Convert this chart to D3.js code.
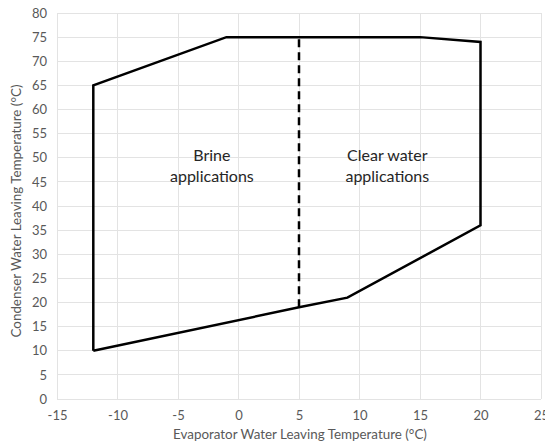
<!DOCTYPE html>
<html>
<head>
<meta charset="utf-8">
<script src="https://cdn.jsdelivr.net/npm/d3@7"></script>
<style>
  body { margin: 0; background: #fff; }
  svg { font-family: Lato, "Open Sans", sans-serif; }
</style>
</head>
<body>
<svg id="chart"></svg>
<script>
var width = 545, height = 443;
var margin = {top: 13, left: 57, right: 4, bottom: 44};

// envelope outline (evaporator temp, condenser temp)
var envX = [-12, -12, -1, 15, 20, 20, 9, 5, -12];
var envY = [10, 65, 75, 75, 74, 36, 21, 19, 10];
// divider between brine and clear water
var divX = [5, 5];
var divY = [19, 75];
var xTicks = [-15, -10, -5, 0, 5, 10, 15, 20, 25];
var yTicks = [0, 5, 10, 15, 20, 25, 30, 35, 40, 45, 50, 55, 60, 65, 70, 75, 80];
var labels = [
  {x: -2.2, y: 49.4, lines: ["Brine", "applications"]},
  {x: 12.3, y: 49.4, lines: ["Clear water", "applications"]}
];

var svg = d3.select('#chart').attr('width', width).attr('height', height);

var x = d3.scaleLinear().domain([-15, 25]).range([margin.left, width - margin.right]);
var y = d3.scaleLinear().domain([0, 80]).range([height - margin.bottom, margin.top]);

// gridlines
svg.append('g').selectAll('line').data(xTicks).enter().append('line')
  .attr('x1', function(d){ return x(d); }).attr('x2', function(d){ return x(d); })
  .attr('y1', y(0)).attr('y2', y(80))
  .attr('stroke', '#e3e3e3').attr('stroke-width', 1).attr('shape-rendering', 'crispEdges');
svg.append('g').selectAll('line').data(yTicks).enter().append('line')
  .attr('y1', function(d){ return y(d); }).attr('y2', function(d){ return y(d); })
  .attr('x1', x(-15)).attr('x2', x(25))
  .attr('stroke', '#e3e3e3').attr('stroke-width', 1).attr('shape-rendering', 'crispEdges');

// axes (labels only)
var fmt = function(d){ return String(d); };
var xaxis = d3.axisBottom(x).tickValues(xTicks).tickFormat(fmt).tickSize(0).tickPadding(12);
var yaxis = d3.axisLeft(y).tickValues(yTicks).tickFormat(fmt).tickSize(0).tickPadding(10);
var gx = svg.append('g').attr('transform', 'translate(0,' + y(0) + ')').call(xaxis);
var gy = svg.append('g').attr('transform', 'translate(' + x(-15) + ',0)').call(yaxis);
gx.select('.domain').remove();
gy.select('.domain').remove();
svg.selectAll('.tick text')
  .attr('font-family', 'Lato, "Open Sans", sans-serif')
  .attr('font-size', 13).attr('fill', '#595959');

// envelope
var pts = envX.map(function(v, i){ return [v, envY[i]]; });
var line = d3.line().x(function(d){ return x(d[0]); }).y(function(d){ return y(d[1]); });
svg.append('path').attr('d', line(pts))
  .attr('fill', 'none').attr('stroke', '#000').attr('stroke-width', 2.5)
  .attr('stroke-linejoin', 'miter');

var dpts = divX.map(function(v, i){ return [v, divY[i]]; });
svg.append('path').attr('d', line(dpts))
  .attr('fill', 'none').attr('stroke', '#000').attr('stroke-width', 2.5)
  .attr('stroke-dasharray', '8,5');

// region labels
labels.forEach(function(l){
  var t = svg.append('text').attr('text-anchor', 'middle')
    .attr('font-size', 16).attr('fill', '#262626');
  l.lines.forEach(function(s, i){
    t.append('tspan').attr('x', x(l.x)).attr('y', y(l.y) + i * 21).text(s);
  });
});

// axis titles
svg.append('text').attr('x', 300).attr('y', 439).attr('text-anchor', 'middle')
  .attr('font-size', 13.4).attr('fill', '#595959')
  .text('Evaporator Water Leaving Temperature (°C)');
svg.append('text').attr('transform', 'translate(20.5,211) rotate(-90)')
  .attr('text-anchor', 'middle').attr('font-size', 13.4).attr('fill', '#595959')
  .text('Condenser Water Leaving Temperature (°C)');
</script>
</body>
</html>
